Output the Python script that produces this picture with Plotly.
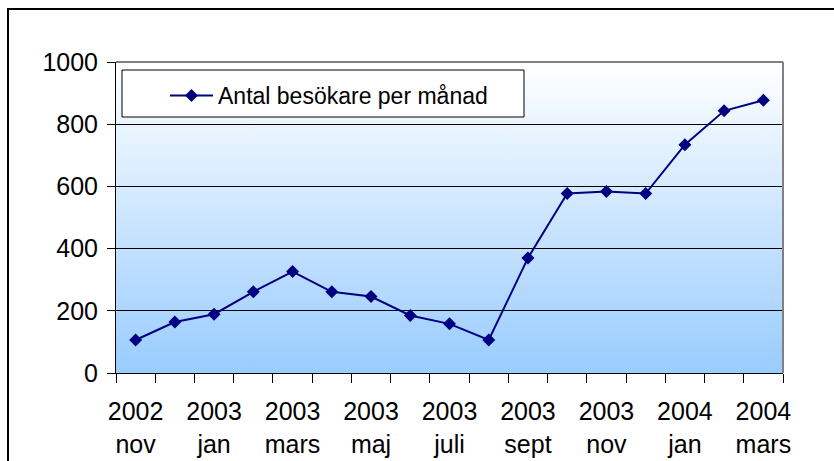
import base64

import plotly.graph_objects as go

# monthly visitors, 2002 nov .. 2004 mars
years = ["2002", "2002", "2003", "2003", "2003", "2003", "2003", "2003", "2003",
         "2003", "2003", "2003", "2003", "2003", "2004", "2004", "2004"]
months = ["nov", "dec", "jan", "feb", "mars", "apr", "maj", "juni", "juli",
          "aug", "sept", "okt", "nov", "dec", "jan", "feb", "mars"]
visitors = [106, 164, 189, 261, 326, 261, 246, 185, 158,
            106, 370, 577, 584, 577, 734, 843, 877]

FONT = "Liberation Sans, Arial, sans-serif"
W, H = 834, 461
L, R, T, B = 116, 51, 62, 88
PW, PH = W - L - R, H - T - B


def px_x(p):
    return (p - L) / PW


def px_y(p):
    return (H - B - p) / PH


# plot area gradient (white -> light blue), as an svg image
grad_svg = (
    '<svg xmlns="http://www.w3.org/2000/svg" width="100" height="100" preserveAspectRatio="none">'
    '<defs><linearGradient id="g" x1="0" y1="0" x2="0" y2="1">'
    '<stop offset="0" stop-color="#ffffff"/><stop offset="1" stop-color="#99ccff"/>'
    '</linearGradient></defs><rect width="100" height="100" fill="url(#g)"/></svg>'
)
grad_src = "data:image/svg+xml;base64," + base64.b64encode(grad_svg.encode()).decode()

xs = list(range(len(visitors)))

fig = go.Figure(go.Scatter(
    x=xs, y=visitors, mode="lines+markers",
    name="Antal besökare per månad",
    line=dict(color="#000080", width=2),
    marker=dict(symbol="diamond", size=10, color="#000080"),
))

fig.update_layout(
    width=W, height=H,
    margin=dict(l=L, r=R, t=T, b=B),
    paper_bgcolor="white", plot_bgcolor="rgba(0,0,0,0)",
    font=dict(family=FONT, size=25, color="black"),
    showlegend=True,
    legend=dict(x=px_x(165), y=px_y(74), xanchor="left", yanchor="top",
                bgcolor="rgba(0,0,0,0)", borderwidth=0, itemwidth=43,
                font=dict(size=23)),
    images=[dict(source=grad_src, xref="paper", yref="paper", x=0, y=1,
                 sizex=1, sizey=1, sizing="stretch", layer="below")],
    shapes=[
        # legend box
        dict(type="rect", xref="paper", yref="paper",
             x0=px_x(122), x1=px_x(524), y0=px_y(117), y1=px_y(70),
             fillcolor="white", line=dict(color="black", width=1), layer="above"),
        # plot border top/right (grey)
        dict(type="line", xref="paper", yref="paper", x0=0, x1=1, y0=1, y1=1,
             line=dict(color="#808080", width=2), layer="above"),
        dict(type="line", xref="paper", yref="paper", x0=1, x1=1, y0=0, y1=1,
             line=dict(color="#808080", width=2), layer="above"),
        # chart frame
        dict(type="rect", xref="paper", yref="paper",
             x0=px_x(8), x1=2, y0=-2, y1=px_y(9),
             line=dict(color="black", width=2), fillcolor="rgba(0,0,0,0)"),
    ],
)

fig.update_xaxes(
    range=[-0.5, len(visitors) - 0.5],
    tickmode="array", tickvals=xs[::2],
    ticktext=[f"{y}<br>{m}" for y, m in zip(years[::2], months[::2])],
    ticks="", showgrid=False, zeroline=False,
    showline=True, linecolor="black", linewidth=1,
    minor=dict(ticks="outside", tick0=-0.5, dtick=1, ticklen=9,
               tickcolor="black", showgrid=False),
    ticklabelstandoff=16, automargin=False,
)
fig.update_yaxes(
    range=[0, 1000], dtick=200,
    ticks="outside", ticklen=8, tickcolor="black",
    showgrid=True, gridcolor="black", gridwidth=1,
    zeroline=False, showline=True, linecolor="black", linewidth=1,
    ticklabelstandoff=4, automargin=False,
)

fig.write_html("out.html", config={"displayModeBar": False},
               post_script="document.body.style.margin='0';")
